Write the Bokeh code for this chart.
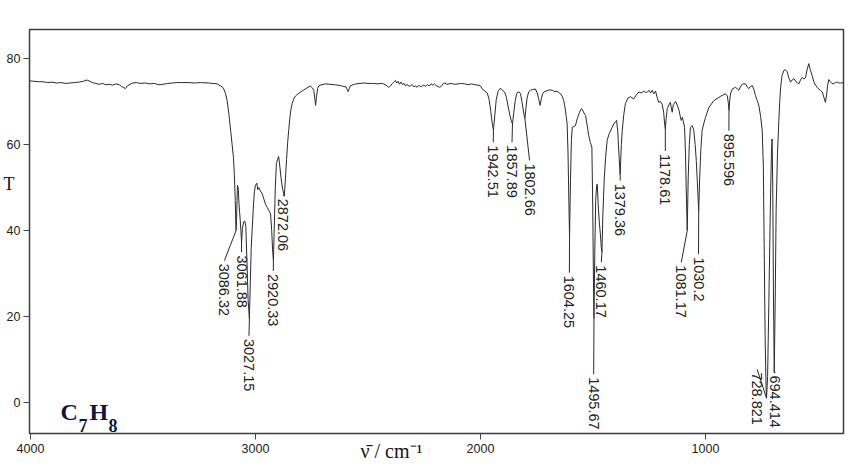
import numpy as np
from bokeh.plotting import figure
from bokeh.models import Range1d, Label, FixedTicker, ColumnDataSource
from bokeh.embed import file_html
from bokeh.resources import INLINE
from bokeh.core.properties import value

# ---------------- data ----------------
# baseline 4004-3155 cm-1
wn_a = [4004, 3985, 3965, 3945, 3925, 3905, 3885, 3865, 3845, 3825,
        3805, 3785, 3765, 3750, 3740, 3725, 3710, 3695, 3680, 3665,
        3650, 3635, 3620, 3605, 3595, 3585, 3578, 3570, 3558, 3545,
        3530, 3510, 3490, 3470, 3450, 3430, 3410, 3390, 3370, 3350,
        3330, 3300, 3270, 3240, 3210, 3190, 3170, 3155]
t_a = [74.8, 74.7, 74.6, 74.6, 74.4, 74.5, 74.3, 74.4, 74.2, 74.3,
       74.4, 74.5, 74.7, 75.0, 74.8, 74.4, 74.2, 74.0, 74.2, 73.9,
       74.0, 73.8, 74.1, 73.9, 73.5, 73.2, 73.0, 73.6, 74.0, 74.3,
       74.4, 74.2, 74.3, 74.1, 74.2, 73.9, 74.0, 74.2, 74.3, 74.4,
       74.4, 74.4, 74.3, 74.4, 74.3, 74.2, 74.1, 73.6]
# C-H stretch region
wn_b = [3148, 3141, 3133, 3126, 3118, 3110, 3104, 3098, 3094, 3090,
        3087.5, 3086.32, 3084, 3082, 3080, 3077, 3073, 3068, 3065, 3061.88,
        3058, 3053, 3048, 3043, 3038, 3033, 3027.15, 3023, 3019, 3015,
        3010, 3005, 3000, 2994, 2990, 2985, 2978, 2970, 2962, 2955,
        2948, 2940, 2933, 2928, 2924, 2920.33, 2916, 2912, 2907, 2902,
        2897, 2892, 2886, 2879, 2872.06, 2867, 2862, 2857, 2852, 2847,
        2842, 2837, 2830, 2822, 2815]
t_b = [73.4, 72.9, 71.8, 70.2, 67.0, 63.0, 60.0, 57.0, 53.0, 47.0,
       42.0, 40.0, 43.0, 47.0, 50.5, 50.0, 46.0, 42.5, 40.0, 37.2,
       40.5, 42.0, 42.2, 41.0, 33.0, 24.0, 19.5, 28.0, 36.0, 40.0,
       45.0, 49.0, 50.5, 51.0, 49.5, 50.0, 49.2, 48.5, 47.2, 46.0,
       45.4, 44.6, 43.9, 40.0, 35.5, 33.0, 42.0, 50.0, 55.6, 56.5,
       57.2, 55.0, 52.0, 49.5, 48.0, 52.0, 56.5, 60.5, 63.5, 66.3,
       68.3, 69.5, 70.6, 71.3, 71.6]
# 2800-2010
wn_c = [2800, 2785, 2770, 2756, 2748, 2741, 2736, 2733, 2729, 2724,
        2718, 2705, 2689, 2670, 2650, 2635, 2622, 2610, 2598, 2592,
        2588, 2583, 2578, 2560, 2540, 2518, 2500, 2480, 2460, 2440,
        2430, 2420, 2413, 2407, 2400, 2392, 2384, 2378, 2372, 2366,
        2360, 2354, 2347, 2340, 2333, 2326, 2318, 2311, 2304, 2296,
        2289, 2282, 2274, 2267, 2260, 2252, 2244, 2236, 2228, 2220,
        2212, 2205, 2197, 2189, 2181, 2173, 2165, 2158, 2150, 2140,
        2130, 2115, 2100, 2085, 2070, 2055, 2040, 2025, 2010]
t_c = [72.2, 72.7, 73.2, 73.6, 73.2, 72.6, 70.5, 69.1, 71.0, 73.0,
       73.7, 73.9, 74.1, 74.0, 73.9, 73.8, 73.7, 73.5, 73.4, 72.8,
       72.3, 73.0, 73.7, 74.0, 74.2, 74.3, 74.2, 74.2, 74.1, 74.2,
       74.1, 73.8, 73.5, 73.3, 73.6, 74.2, 74.6, 74.9, 74.3, 74.7,
       74.0, 74.5, 73.9, 74.2, 73.6, 74.0, 73.5, 73.7, 73.9, 73.4,
       73.6, 73.3, 73.8, 73.4, 73.6, 73.8, 73.5, 73.9, 73.6, 74.1,
       73.8, 74.1, 73.7, 73.5, 73.3, 73.6, 74.2, 74.3, 74.0, 74.1,
       74.2, 74.0, 74.1, 74.2, 74.1, 73.9, 74.1, 73.9, 73.8]
# overtone region 2000-1604
wn_d = [2000, 1992, 1980, 1970, 1962, 1955, 1948, 1942.51, 1936, 1930,
        1922, 1914, 1908, 1900, 1893, 1885, 1876, 1868, 1862, 1857.89,
        1852, 1846, 1840, 1834, 1828, 1822, 1816, 1810, 1805, 1802.66,
        1798, 1793, 1786, 1778, 1768, 1756, 1748, 1741, 1735, 1730,
        1724, 1718, 1705, 1692, 1681, 1670, 1660, 1650, 1644, 1637,
        1630, 1624, 1619, 1615, 1611, 1607, 1604.25]
t_d = [73.6, 72.9, 72.4, 72.0, 70.5, 68.0, 65.0, 63.3, 67.0, 70.5,
       72.3, 73.0, 72.9, 72.5, 72.2, 71.0, 68.5, 66.5, 65.3, 64.8,
       67.5, 70.0, 71.7, 72.2, 72.2, 71.8, 70.0, 68.0, 66.5, 66.0,
       68.5, 70.8, 72.2, 72.6, 72.8, 72.9, 72.0, 70.5, 69.1, 70.5,
       71.8, 72.2, 72.5, 72.7, 72.6, 72.3, 72.4, 72.0, 71.8, 71.2,
       70.2, 68.5, 66.5, 64.8, 58.0, 46.0, 38.5]
# fingerprint 1600-1008
wn_e = [1600, 1596, 1592, 1585, 1578, 1570, 1560, 1552, 1548, 1540,
        1533, 1526, 1519, 1512, 1505, 1501, 1498, 1495.67, 1492, 1488,
        1484, 1481, 1477, 1472, 1467, 1463, 1460.17, 1456, 1450, 1444,
        1437, 1428, 1415, 1405, 1395, 1390, 1385, 1379.36, 1374, 1370,
        1363, 1356, 1345, 1333, 1319, 1308, 1296, 1285, 1274, 1266,
        1259, 1251, 1244, 1237, 1230, 1222, 1215, 1208, 1200, 1193,
        1186, 1182, 1178.61, 1175, 1170, 1163, 1156, 1152, 1148, 1143,
        1133, 1126, 1118, 1112, 1108, 1103, 1099, 1093, 1089, 1085,
        1081.17, 1077, 1072, 1067, 1059, 1052, 1046, 1041, 1036, 1030.2,
        1026, 1021, 1015, 1008]
t_e = [52.0, 61.0, 64.0, 64.2, 64.4, 66.0, 67.5, 68.3, 68.2, 67.3,
       66.7, 64.5, 62.1, 60.5, 59.4, 45.0, 28.0, 19.5, 35.0, 47.0,
       50.5, 50.8, 46.0, 42.0, 39.0, 36.0, 35.0, 44.0, 52.0, 57.0,
       61.0, 62.5, 64.0, 65.0, 65.6, 63.0, 58.0, 53.0, 60.0, 63.3,
       67.0, 69.5, 70.8, 71.1, 70.6, 71.5, 72.2, 72.0, 72.4, 72.1,
       72.2, 72.6, 72.0, 72.6, 71.8, 72.4, 71.0, 69.8, 70.0, 69.4,
       67.5, 65.0, 63.6, 66.0, 68.3, 69.2, 69.8, 68.5, 67.5, 69.3,
       70.0, 69.2, 68.0, 66.5, 65.6, 66.3, 65.5, 64.0, 58.0, 48.0,
       40.0, 52.0, 60.0, 64.0, 64.4, 63.3, 60.0, 56.3, 51.0, 44.5,
       52.0, 58.5, 63.3, 64.8]
# 1000-387
wn_f = [1000, 985, 963, 933, 911, 903, 899, 895.6, 892, 888,
        881, 874, 867, 860, 852, 845, 837, 830, 822, 815,
        807, 800, 792, 785, 778, 770, 763, 755, 748, 743,
        739, 735, 731, 728.82, 724, 718, 712, 707, 704, 701,
        698, 694.41, 690, 686, 680, 674, 670, 666, 660, 652,
        645, 637, 630, 622, 615, 607, 600, 592, 585, 578,
        570, 563, 556, 548, 541, 535, 526, 518, 511, 503,
        496, 489, 481, 474, 467, 462, 457, 452, 445, 438,
        430, 423, 415, 408, 400, 387]
t_f = [66.3, 68.6, 70.2, 71.2, 71.8, 71.3, 69.8, 67.9, 70.5, 72.0,
       72.9, 73.1, 73.3, 73.0, 72.6, 73.4, 74.0, 74.1, 74.1, 73.4,
       73.0, 73.5, 73.7, 72.8, 71.4, 70.2, 69.1, 66.5, 63.3, 55.0,
       35.0, 15.0, 4.0, 1.0, 6.0, 25.0, 45.0, 58.0, 61.3, 50.0,
       25.0, 7.0, 25.0, 45.0, 58.0, 65.6, 70.0, 73.3, 76.0, 77.2,
       77.4, 76.9, 75.5, 74.5, 75.0, 75.3, 74.8, 74.3, 74.1, 75.0,
       75.6, 75.2, 75.5, 77.5, 78.8, 77.5, 76.0, 74.5, 73.8, 73.2,
       72.9, 72.6, 72.2, 71.0, 69.8, 71.5, 73.8, 75.1, 74.6, 74.2,
       74.1, 74.4, 74.5, 74.3, 74.3, 74.4]

peak_labels = ["3086.32", "3061.88", "3027.15", "2920.33", "2872.06",
               "1942.51", "1857.89", "1802.66", "1604.25", "1495.67",
               "1460.17", "1379.36", "1178.61", "1081.17", "1030.2",
               "895.596", "728.821", "694.414"]
peak_wn = [3086.32, 3061.88, 3027.15, 2920.33, 2872.06,
           1942.51, 1857.89, 1802.66, 1604.25, 1495.67,
           1460.17, 1379.36, 1178.61, 1081.17, 1030.2,
           895.596, 728.821, 694.414]
peak_t = [40.0, 37.2, 19.5, 33.0, 48.0,
          63.3, 64.8, 66.0, 38.5, 19.5,
          35.0, 53.0, 63.6, 40.0, 44.5,
          67.9, 1.0, 7.0]
# where each rotated peak label starts (wavenumber, %T)
label_wn = [3138, 3062, 3029, 2921, 2877,
            1943, 1860, 1782, 1605, 1497,
            1463, 1379, 1178.6, 1107.6, 1031,
            896, 770.4, 689]
label_t = [32.3, 34.2, 14.8, 29.9, 47.4,
           59.8, 59.8, 55.6, 29.5, 5.9,
           31.9, 50.9, 57.8, 31.9, 33.8,
           62.5, 7.0, 6.3]

x_ticks = [4000, 3000, 2000, 1000]
y_ticks = [0, 20, 40, 60, 80]
x_title = "\u03bd\u0304 / cm\u207b\u00b9"
y_title = "T"

# ---------------- build ----------------
wavenumber = wn_a + wn_b + wn_c + wn_d + wn_e + wn_f
transmittance = t_a + t_b + t_c + t_d + t_e + t_f
if len(wavenumber) != len(transmittance):
    raise ValueError(f"length mismatch {len(wavenumber)} vs {len(transmittance)}")

p = figure(width=862, height=465,
           x_range=Range1d(4004.4, 386.7), y_range=Range1d(-7.2, 86.74),
           output_backend="svg", toolbar_location=None,
           min_border_left=29, min_border_right=19,
           min_border_top=29, min_border_bottom=32)
p.background_fill_color = "white"
p.border_fill_color = "white"
p.grid.visible = False
p.outline_line_color = "#3c3c3c"
p.outline_line_width = 1.5

for ax, ticks in ((p.xaxis, x_ticks), (p.yaxis, y_ticks)):
    ax.ticker = FixedTicker(ticks=ticks, minor_ticks=[])
    ax.axis_line_color = None
    ax.major_tick_in = 0
    ax.major_tick_out = 6
    ax.minor_tick_out = 0
    ax.minor_tick_in = 0
    ax.major_tick_line_color = "#444444"
    ax.major_label_text_font = "Liberation Sans"
    ax.major_label_text_font_size = "12.5px"
    ax.major_label_text_color = "#222222"
    ax.axis_label_text_font = "Liberation Serif"
    ax.axis_label_text_font_style = "normal"
    ax.axis_label_text_color = "#111122"
p.yaxis.major_label_standoff = 3
p.xaxis.major_label_standoff = 4

# x title: trailing em-spaces shift the visible text left of centre
p.xaxis.axis_label = x_title + "\u2003" * 4 + "\u2002"
p.xaxis.axis_label_text_font_size = "20px"
p.xaxis.axis_label_standoff = -16

# y title: horizontal "T", raised with blank lines below it
p.yaxis.axis_label = y_title + "\n\u00a0" * 4
p.yaxis.axis_label_orientation = "horizontal"
p.yaxis.axis_label_text_font_size = "18px"
p.yaxis.axis_label_text_line_height = 1.2
p.yaxis.axis_label_standoff = -11

spec = ColumnDataSource(dict(x=wavenumber, y=transmittance))
p.line("x", "y", source=spec, line_color="#2a2a2a", line_width=1)

lead_end = [t + 0.7 for t in label_t]
peaks = ColumnDataSource(dict(px=peak_wn, py=peak_t, lx=label_wn, ly=label_t,
                              le=lead_end, txt=peak_labels))
p.segment(x0="px", y0="py", x1="lx", y1="le", source=peaks,
          line_color="#2a2a2a", line_width=1)
p.text(x="lx", y="ly", text="txt", source=peaks, angle=-np.pi / 2,
       text_align="left", text_baseline="middle",
       text_font=value("Liberation Sans"), text_font_size=value("14.5px"),
       text_color="#222222")

# molecular formula
for txt, xw, yt, size in (("C", 3867, -2.3, "24px"), ("7", 3787, -5.4, "18px"),
                          ("H", 3738, -2.3, "24px"), ("8", 3653, -5.4, "18px")):
    p.add_layout(Label(x=xw, y=yt, text=txt, text_font="Liberation Serif",
                       text_font_style="bold", text_font_size=size,
                       text_color="#14143a", text_align="left",
                       text_baseline="alphabetic"))

open("out.html", "w").write(file_html(p, INLINE))
